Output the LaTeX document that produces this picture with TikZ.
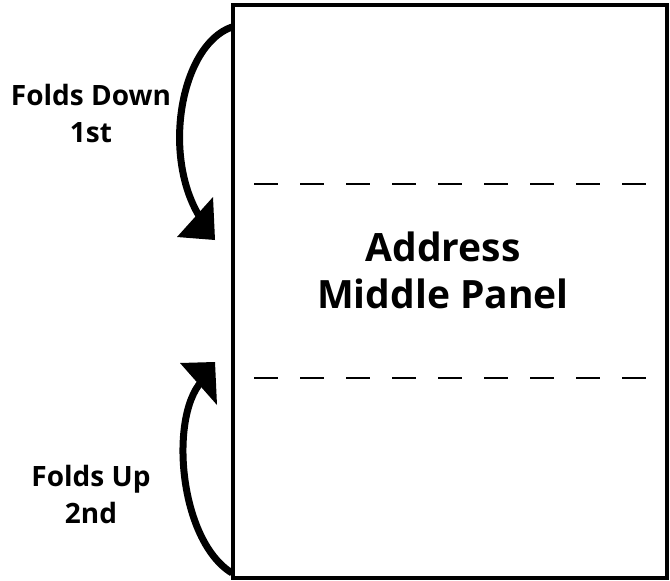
\documentclass[tikz,border=0pt]{standalone}
\usepackage{fontspec}
\setmainfont{Open Sans}
\begin{document}
\begin{tikzpicture}[x=1pt, y=-1pt,
    foldarrow/.style={line width=7pt},
    foldhead/.style={fill=black},
    foldlabel/.style={font=\bfseries\fontsize{28}{37}\selectfont, align=center, inner sep=0pt},
    panellabel/.style={font=\bfseries\fontsize{39}{47}\selectfont, align=center, inner sep=0pt}]
      \useasboundingbox (0,0) rectangle (670,581);

      % the sheet and its two fold lines
      \draw[line width=4.5pt] (233,5) rectangle (667,578);
      \draw[line width=2.5pt, dash pattern=on 24pt off 22pt] (254,184) -- (650,184);
      \draw[line width=2.5pt, dash pattern=on 24pt off 22pt] (254,378) -- (650,378);

      \node[panellabel] (panel) at (443,270) {Address\\Middle Panel};

      % first fold
      \coordinate (topstart) at (232,27);
      \coordinate (topend) at (203,222);
      \draw[foldarrow] (topstart) .. controls (180,45) and (160,160) .. (topend);
      \fill[foldhead] (177,237) -- (213,197) -- (215,240) -- cycle;
      \node[foldlabel] (down) at (91,113) {Folds Down\\1st};

      % second fold
      \coordinate (botstart) at (232,573);
      \coordinate (botend) at (205,378);
      \draw[foldarrow] (botstart) .. controls (178,540) and (168,410) .. (botend);
      \fill[foldhead] (180,363) -- (215,362) -- (217,405) -- cycle;
      \node[foldlabel] (up) at (91,494) {Folds Up\\2nd};
\end{tikzpicture}
\end{document}
